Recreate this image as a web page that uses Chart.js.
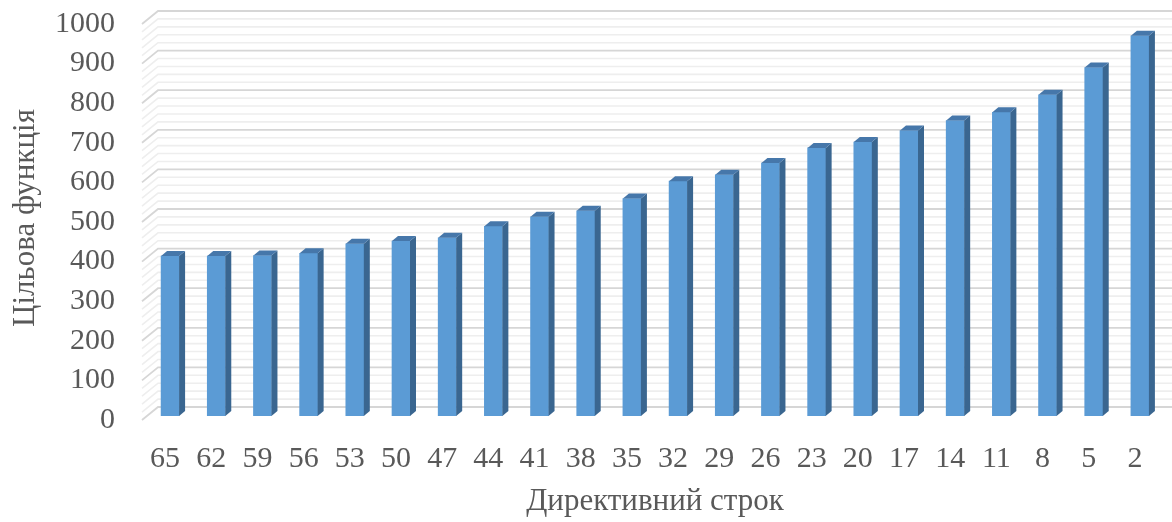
<!DOCTYPE html>
<html>
<head>
<meta charset="utf-8">
<script src="https://cdn.jsdelivr.net/npm/chart.js@4.4.1/dist/chart.umd.min.js"></script>
<style>
  html, body { margin: 0; padding: 0; background: #ffffff; }
  #wrap { width: 1172px; height: 522px; }
</style>
</head>
<body>
<div id="wrap"><canvas id="c" width="1172" height="522"></canvas></div>
<script>
// Directive deadline (categories) and objective function values
const categories = ['65', '62', '59', '56', '53', '50', '47', '44', '41', '38', '35',
                    '32', '29', '26', '23', '20', '17', '14', '11', '8', '5', '2'];
const values = [404, 404, 405, 411, 435, 442, 450, 479, 503, 518, 549,
                593, 609, 639, 677, 692, 721, 746, 767, 811, 880, 960];
const yTicks = [0, 100, 200, 300, 400, 500, 600, 700, 800, 900, 1000];

const TEXT = '#595959';
const FAMILY = "'Liberation Serif', 'Times New Roman', serif";
const TICK_FONT = { family: FAMILY, size: 30 };
const TITLE_FONT = { family: FAMILY, size: 31 };

// Pseudo-3D geometry: offsets of the front edge and back wall from the bar plane
const FRONT = { dx: -5, dy: 4 };
const BACK = { dx: 11, dy: -9 };
const BAR_DEPTH = { dx: 6, dy: -5 };
const MINOR_STEP = 20;

// Back-wall gridlines with the slanted stub on the left side wall
const wallGrid = {
  id: 'wallGrid',
  beforeDatasetsDraw(chart) {
    const { ctx, chartArea, scales: { y } } = chart;
    const x0 = chartArea.left + FRONT.dx;
    const x1 = chartArea.left + BACK.dx;
    const x2 = chart.width;
    ctx.save();
    const drawLine = (v, color, w) => {
      const py = y.getPixelForValue(v);
      ctx.strokeStyle = color;
      ctx.lineWidth = w;
      ctx.beginPath();
      ctx.moveTo(x0, py + FRONT.dy);
      ctx.lineTo(x1, py + BACK.dy);
      ctx.lineTo(x2, py + BACK.dy);
      ctx.stroke();
    };
    for (let v = y.min; v <= y.max; v += MINOR_STEP) {
      if (!yTicks.includes(v)) drawLine(v, '#eeeeee', 1.6);
    }
    yTicks.forEach(v => drawLine(v, '#d6d6d6', 1.8));
    ctx.restore();
  }
};

// Side and top faces that give each column its depth
const columnFaces = {
  id: 'columnFaces',
  afterDatasetsDraw(chart) {
    const { ctx } = chart;
    const meta = chart.getDatasetMeta(0);
    ctx.save();
    meta.data.forEach(bar => {
      const { x, y, base, width } = bar.getProps(['x', 'y', 'base', 'width'], true);
      const r = x + width / 2;
      const l = x - width / 2;
      const { dx, dy } = BAR_DEPTH;
      // side
      ctx.fillStyle = '#3a6690';
      ctx.beginPath();
      ctx.moveTo(r, y);
      ctx.lineTo(r + dx, y + dy);
      ctx.lineTo(r + dx, base + dy);
      ctx.lineTo(r, base);
      ctx.closePath();
      ctx.fill();
      // top
      ctx.fillStyle = '#4677aa';
      ctx.beginPath();
      ctx.moveTo(l, y);
      ctx.lineTo(r, y);
      ctx.lineTo(r + dx, y + dy);
      ctx.lineTo(l + dx, y + dy);
      ctx.closePath();
      ctx.fill();
    });
    ctx.restore();
  }
};

new Chart(document.getElementById('c'), {
  type: 'bar',
  data: {
    labels: categories,
    datasets: [{
      data: values,
      backgroundColor: '#5b9bd5',
      borderWidth: 0,
      barThickness: 18
    }]
  },
  options: {
    responsive: false,
    animation: false,
    devicePixelRatio: 1,
    layout: { padding: { left: 0, right: 9, top: 20, bottom: 0 } },
    plugins: {
      legend: { display: false },
      tooltip: { enabled: false }
    },
    scales: {
      x: {
        grid: { display: false, drawTicks: false },
        border: { display: false },
        ticks: {
          color: TEXT, font: TICK_FONT, padding: 25, labelOffset: -5,
          autoSkip: false, maxRotation: 0
        },
        title: {
          display: true, text: 'Директивний строк', color: TEXT, font: TITLE_FONT,
          padding: { top: 0, bottom: 2 }
        },
        afterFit(s) { s.height = 106; s.paddingLeft = 0; s.paddingRight = 0; }
      },
      y: {
        min: 0, max: 1000,
        grid: { display: false, drawTicks: false },
        border: { display: false },
        ticks: {
          color: TEXT, font: TICK_FONT, padding: 32, labelOffset: 4,
          callback: v => String(v)
        },
        afterBuildTicks(s) { s.ticks = yTicks.map(v => ({ value: v })); },
        title: {
          display: true, text: 'Цільова функція', color: TEXT, font: TITLE_FONT,
          padding: { top: 7, bottom: 0 }
        },
        afterFit(s) { s.width = 147; s.paddingTop = 0; s.paddingBottom = 0; }
      }
    }
  },
  plugins: [wallGrid, columnFaces]
});
</script>
</body>
</html>
